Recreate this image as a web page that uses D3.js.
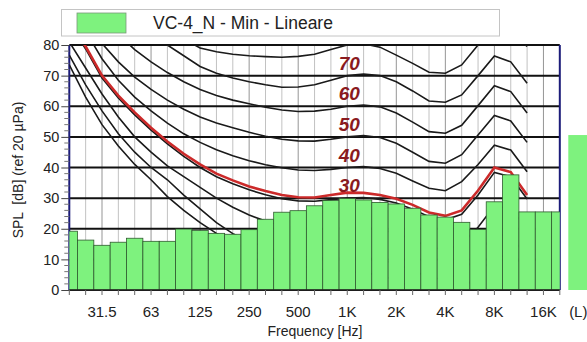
<!DOCTYPE html>
<html><head><meta charset="utf-8">
<script src="https://cdn.jsdelivr.net/npm/d3@7/dist/d3.min.js"></script>
<style>
html,body{margin:0;padding:0;background:#fff;}
svg{display:block;font-family:"Liberation Sans",Arial,sans-serif;}
</style></head>
<body><svg id="c" width="587" height="342"></svg>
<script>
// ---------- data ----------
const bands = ["20","25","31.5","40","50","63","80","100","125","160","200","250","315","400","500","630","800","1K","1.25K","1.6K","2K","2.5K","3.15K","4K","5K","6.3K","8K","10K","12.5K","16K","20K"];
const tickLabels = ["31.5","63","125","250","500","1K","2K","4K","8K","16K"];
const barValues = [19.2,16.3,14.6,15.6,16.9,15.9,15.9,19.9,19.4,18.5,18.2,19.7,23.1,25.4,25.9,27.5,29.2,29.9,29.4,28.6,28.1,26.7,24.5,23.8,22.1,19.8,28.8,37.6,25.5,25.5,25.5];
const totalLabel = ["(L)"];
const totalValue = [50.6];
const legendText = "VC-4_N - Min - Lineare";
const yTicks = [0,10,20,30,40,50,60,70,80];
// equal-loudness contours, 20 Hz .. 12.5 kHz
const contourBands = bands.slice(0, 29);
const phon80 = [110,106,102,98,94,90,86,82,79,77.8,77,76.5,76.2,76,76.3,77,78.5,80,80.4,79.3,76.7,74,71.1,70.8,73.5,80,86,84.5,79.5];
const phon70 = [106,101,96,91.5,87.5,83.5,80,76.5,73,70.8,69.2,68,67,66.2,66.3,67,68.5,70,70.5,70,68,65,61.7,61.3,63.7,70,76.4,74.5,67.5];
const phon60 = [102,96,89.5,83.5,78.5,74.5,71,68,65.5,63.5,62,60.8,59.7,58.8,58.3,58.4,59,60,60.4,59.8,57.8,54.8,51.7,51.2,53.8,60.2,66.7,64.8,57.8];
const phon50 = [98,89,80.5,74.5,69.5,65.5,62,59,56.5,54.5,53,51.5,50.2,49.2,48.7,48.6,49.2,50,50.4,49.8,47.9,45,42,41.4,44.2,50.6,57,55.2,48.2];
const phon40 = [94,84.5,75.5,68.5,63,58.5,54.5,51,48.2,45.8,43.8,42.2,40.9,39.9,39.2,39,39.4,40,40.3,39.7,38.1,35.6,33.2,32.4,35.4,41,47.3,45.7,38.6];
const phon30 = [87,78.7,69.2,62.7,57.2,52.2,47.7,43.6,40,37,34.7,32.7,31.1,29.8,29.1,29,29.5,30,30.2,29.6,28.4,26.4,23.9,22.9,24.7,31,38.4,37,29.7];
const phon20 = [81,72.5,64,56.5,50,45,40.5,37,33.5,30,27,24.5,22.5,21,20.2,19.9,20,20.3,20.4,19.8,18.5,16.5,14,13.2,15,20.5,27.5,26.5,20];
const phon10 = [76.7,67,58.5,51,45,40,36,31,26.5,22,18.4,16,14,12.5,11.3,10.5,10.3,10.5,10.5,10,8.5,6.5,4,3.5,5.5,11.5,18.5,17.5,11];
const phon0  = [73.5,63,54,47,41,36,30.5,26,22,18.5,15.5,13,11,9,8,7,6.5,6,5.5,5,3,1,-1,-1.5,0,5,11,11,8];
const minCurve = [88,79.5,70,63.5,58,53,48.5,44.5,41,38,35.8,33.8,32.3,31,30.3,30.2,31,31.8,31.7,31,29.8,27.8,25.3,24.2,26,32.5,40,38.5,31];
const phonLabels = [70,60,50,40,30];

// ---------- layout ----------
const svg = d3.select("#c");
const plotL = 69.3, plotR = 559.8, step = (plotR - plotL) / 30;
const x = d3.scaleBand().domain(bands).range([plotL - step/2, plotR + step/2]).padding(0);
const xc = b => x(b) + x.bandwidth()/2;
const y = d3.scaleLinear().domain([0,80]).range([290,45]);
const xL = d3.scaleBand().domain(totalLabel).range([568.3, 588.3]);

svg.append("defs").append("clipPath").attr("id","plotclip")
  .append("rect").attr("x",plotL).attr("y",y(80)).attr("width",plotR-plotL).attr("height",y(0)-y(80));

// legend
const lg = svg.append("g");
lg.append("rect").attr("x",61.5).attr("y",9.5).attr("width",438).attr("height",26.5)
  .attr("fill","#fff").attr("stroke","#c4c4c4").attr("stroke-width",1);
lg.append("rect").attr("x",77).attr("y",13).attr("width",49).attr("height",20)
  .attr("fill","#7ef27e").attr("stroke","#7a9a7a").attr("stroke-width",0.8);
lg.append("text").attr("x",153).attr("y",28.5).attr("font-size",17.5).attr("fill","#222").text(legendText);

// vertical grid
const g = svg.append("g");
g.selectAll("line.v").data(bands).join("line")
  .attr("x1",d=>xc(d)).attr("x2",d=>xc(d)).attr("y1",y(80)).attr("y2",y(0))
  .attr("stroke",d=>tickLabels.includes(d)?"#959595":"#c2c2c2").attr("stroke-width",1);
// horizontal grid
g.selectAll("line.h").data(yTicks).join("line")
  .attr("x1",plotL).attr("x2",plotR).attr("y1",d=>y(d)).attr("y2",d=>y(d))
  .attr("stroke","#111").attr("stroke-width",2);
// blue frame sides
g.selectAll("line.f").data([plotL, plotR]).join("line")
  .attr("x1",d=>d).attr("x2",d=>d).attr("y1",y(80)).attr("y2",y(0))
  .attr("stroke","#1c1c7a").attr("stroke-width",2);

// contours
const line = d3.line().x((d,i)=>xc(contourBands[i])).y(d=>y(d)).curve(d3.curveLinear);
const cg = svg.append("g").attr("clip-path","url(#plotclip)");
[phon80,phon70,phon60,phon50,phon40,phon30,phon20,phon10,phon0].forEach(arr=>{
  cg.append("path").attr("d",line(arr)).attr("fill","none").attr("stroke","#1a1a1a").attr("stroke-width",1.6);
});
cg.append("path").attr("d",line(minCurve)).attr("fill","none").attr("stroke","#cc2a2a").attr("stroke-width",2.6);

// bars
svg.append("g").attr("clip-path","url(#plotclip)").selectAll("rect").data(barValues).join("rect")
  .attr("x",(d,i)=>x(bands[i])).attr("width",x.bandwidth())
  .attr("y",d=>y(d)).attr("height",d=>y(0)-y(d))
  .attr("fill","#7ef27e").attr("stroke","#2f5a2f").attr("stroke-width",0.8);
// total bar
svg.append("g").selectAll("rect").data(totalValue).join("rect")
  .attr("x",(d,i)=>xL(totalLabel[i])).attr("width",xL.bandwidth())
  .attr("y",d=>y(d)).attr("height",d=>y(0)-y(d))
  .attr("fill","#7ef27e");

// bottom line
svg.append("line").attr("x1",plotL).attr("x2",plotR).attr("y1",y(0)).attr("y2",y(0))
  .attr("stroke","#222").attr("stroke-width",1.5);

// phon labels
svg.append("g").selectAll("text").data(phonLabels).join("text")
  .attr("x",xc("1K")+2).attr("y",d=>y(d)-6).attr("text-anchor","middle")
  .attr("font-size",19).attr("font-weight","bold").attr("font-style","italic")
  .attr("fill","#8a1a1e").text(d=>d);

// y axis
const yAxis = d3.axisLeft(y).tickValues(yTicks).tickSize(8).tickPadding(2).tickFormat(d3.format("d"));
const ya = svg.append("g").attr("transform",`translate(${plotL},0)`).call(yAxis);
ya.select(".domain").remove();
ya.selectAll("text").attr("font-size",14.5).attr("fill","#222").attr("font-family","Liberation Sans, Arial, sans-serif");
ya.selectAll("line").attr("stroke","#444");
const minorY = d3.range(0,81,2).filter(v=>v%10!==0);
svg.append("g").selectAll("line").data(minorY).join("line")
  .attr("x1",plotL-5).attr("x2",plotL).attr("y1",d=>y(d)).attr("y2",d=>y(d))
  .attr("stroke","#777").attr("stroke-width",1);

// x axis
const xAxis = d3.axisBottom(x).tickValues(bands).tickSize(5).tickPadding(11)
  .tickFormat(d=>tickLabels.includes(d)?d:"");
const xa = svg.append("g").attr("transform",`translate(0,${y(0)})`).call(xAxis);
xa.select(".domain").remove();
xa.selectAll("line").attr("stroke","#666");
xa.selectAll("text").attr("font-size",15).attr("fill","#222").attr("font-family","Liberation Sans, Arial, sans-serif");
const xla = svg.append("g").attr("transform",`translate(0,${y(0)})`).call(d3.axisBottom(xL).tickSize(0).tickPadding(16));
xla.select(".domain").remove();
xla.selectAll("text").attr("font-size",15).attr("fill","#222").attr("font-family","Liberation Sans, Arial, sans-serif");

// axis titles
svg.append("text").attr("x",315).attr("y",336).attr("text-anchor","middle")
  .attr("font-size",14).attr("fill","#222").text("Frequency [Hz]");
svg.append("text").attr("transform","translate(23,170) rotate(-90)").attr("text-anchor","middle")
  .attr("font-size",14).attr("fill","#222").attr("xml:space","preserve").style("white-space","pre")
  .text("SPL  [dB] (ref 20 µPa)");
</script></body></html>
